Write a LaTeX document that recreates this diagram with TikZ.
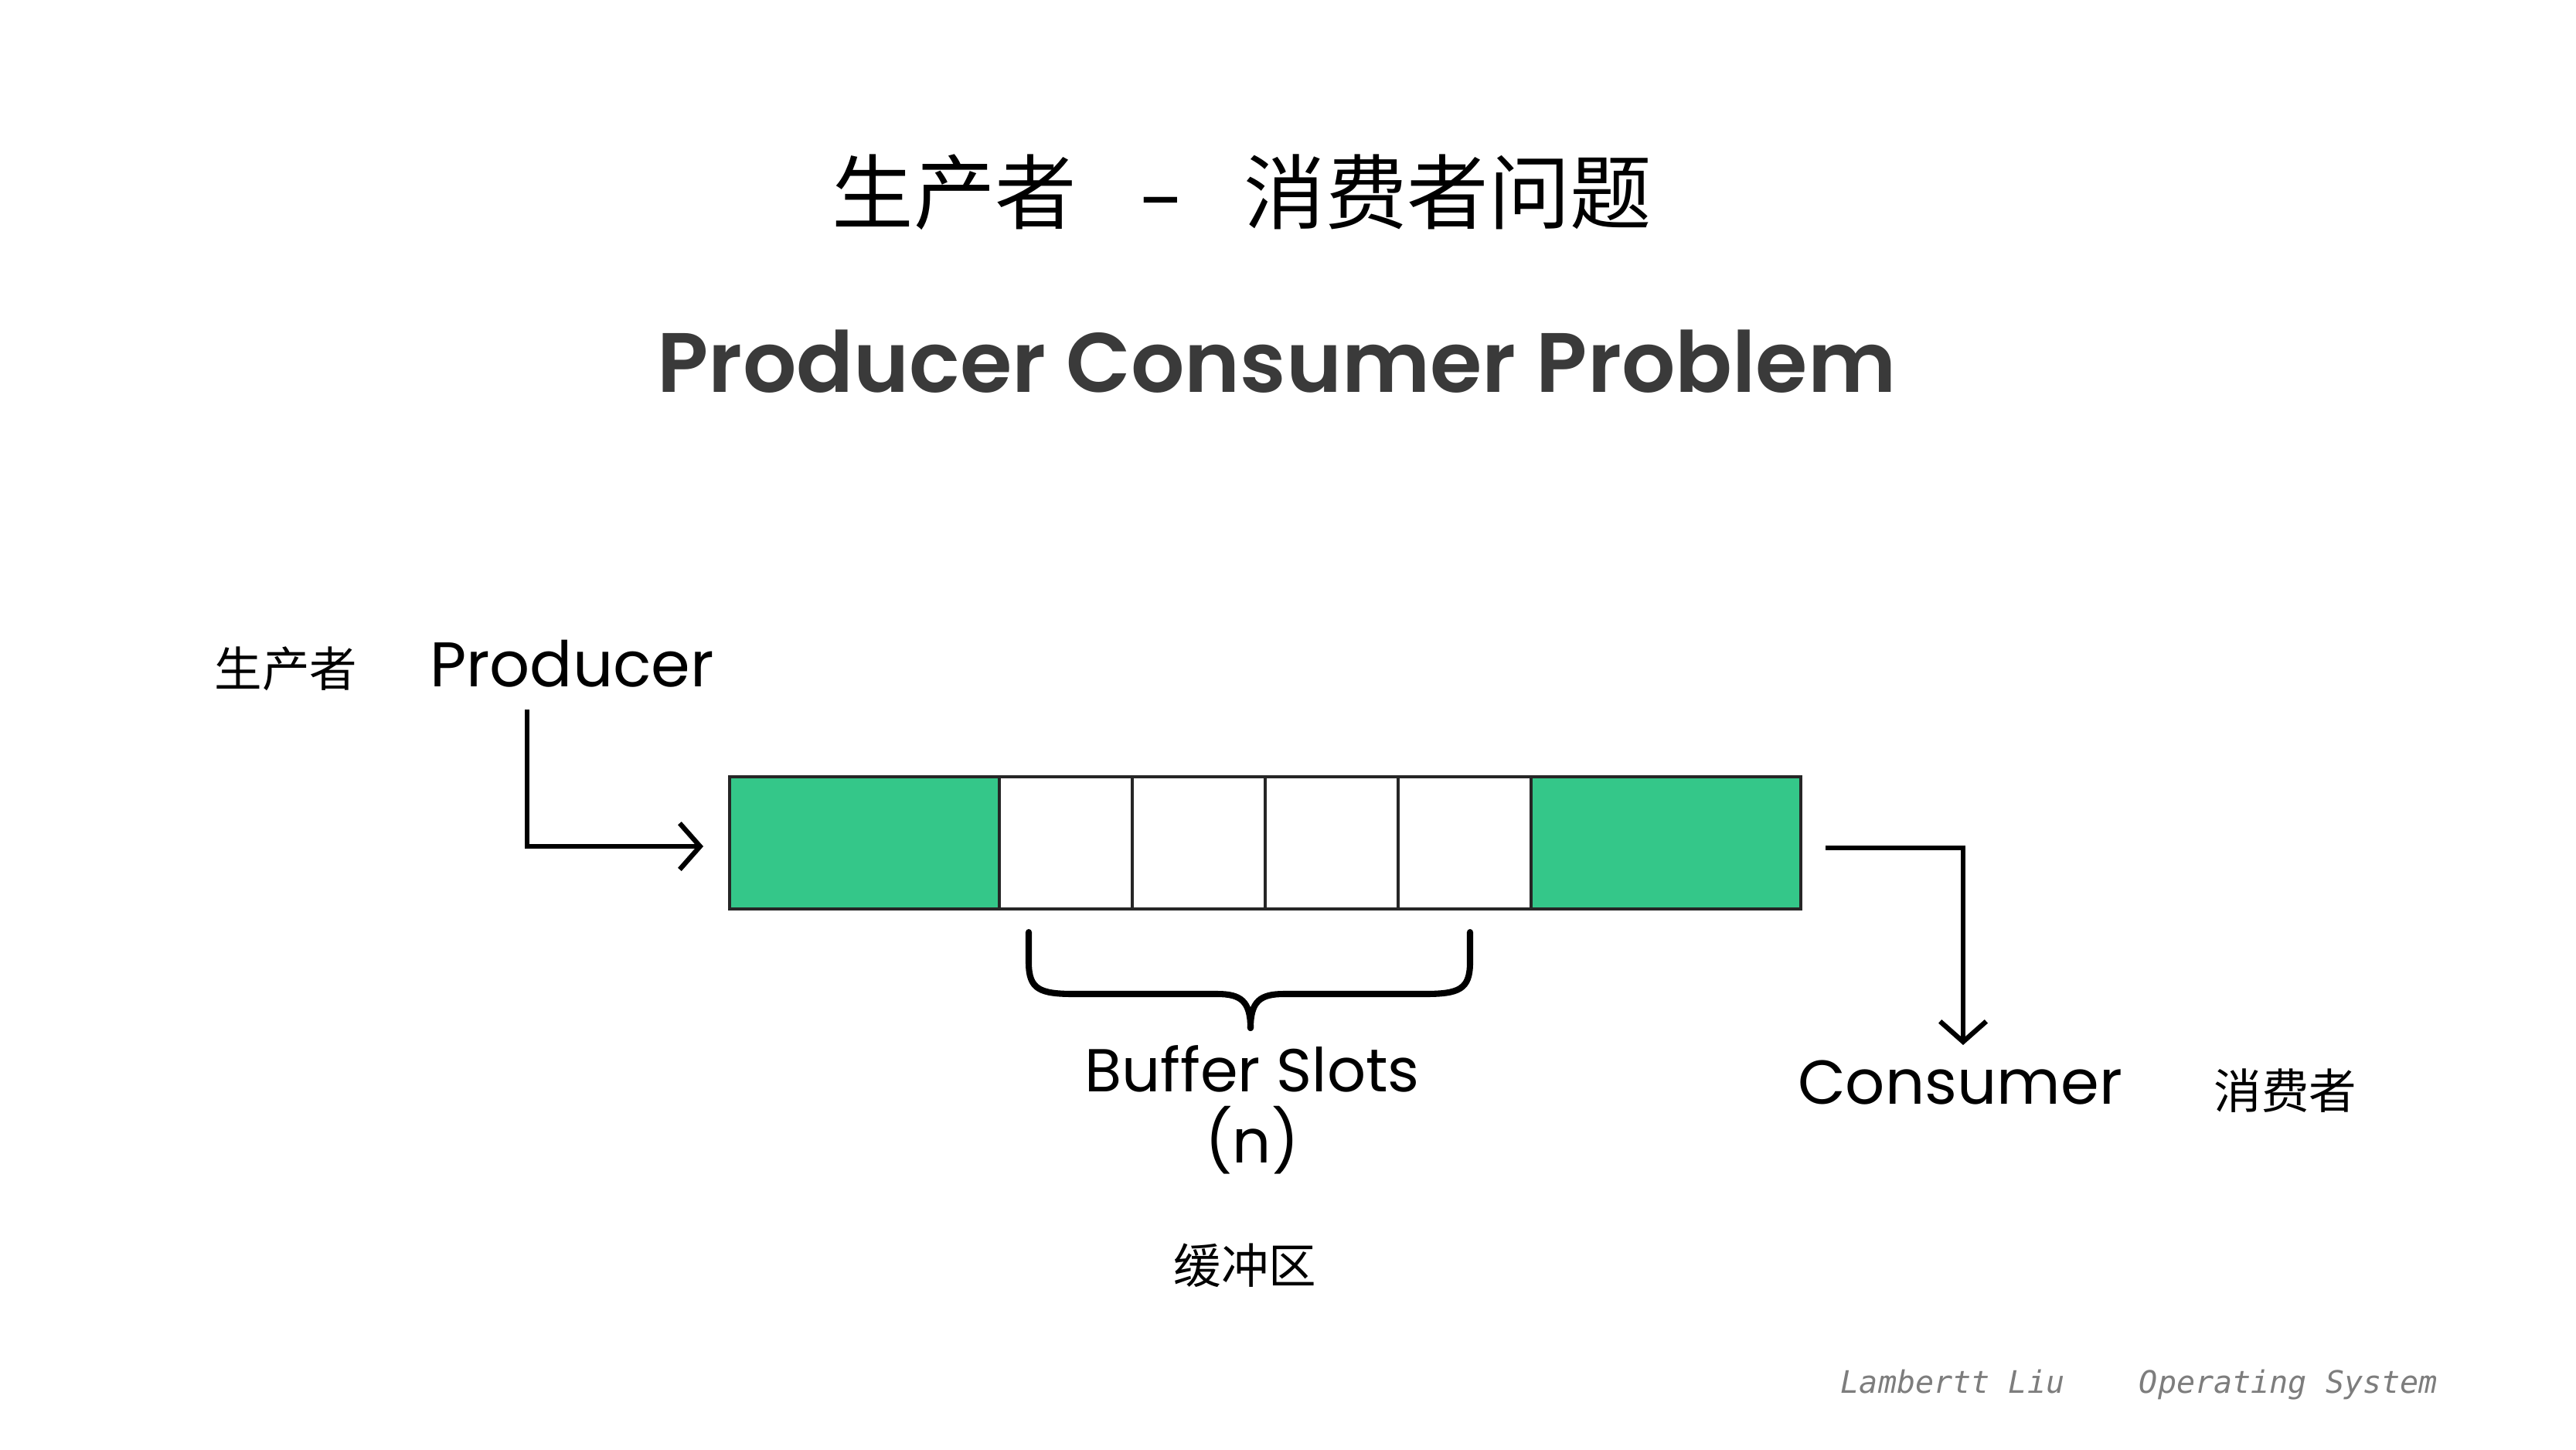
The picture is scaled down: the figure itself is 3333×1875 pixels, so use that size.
\documentclass[tikz,border=0pt]{standalone}
\usepackage{fontspec}
\usepackage{graphicx}
\usetikzlibrary{arrows.meta}
\newfontfamily\cjk{Noto Sans CJK SC}
\newfontfamily\pop{Poppins}
\newfontfamily\popsb{Poppins SemiBold}
\newfontfamily\footmono{DejaVu Sans Mono}
\definecolor{slotgreen}{RGB}{52,199,137}
\definecolor{subgray}{RGB}{58,58,58}
\definecolor{footgray}{RGB}{125,125,125}
\begin{document}
\begin{tikzpicture}[x=0.01cm,y=-0.01cm,
  cjktitle/.style={font=\cjk\fontsize{30}{36}\selectfont, inner sep=0pt},
  cjklabel/.style={font=\cjk\fontsize{17.5}{21}\selectfont, inner sep=0pt},
  enlabel/.style={font=\pop\fontsize{23.2}{28}\selectfont, inner sep=0pt},
  greencell/.style={draw=black!85, line width=0.9pt, fill=slotgreen},
  whitecell/.style={draw=black!85, line width=0.9pt, fill=white},
  flow/.style={draw=black, line width=1.8pt, -{Straight Barb[length=7.5pt,width=17pt,line width=1.8pt]}},
  bracestyle/.style={line width=2.3pt, line join=round, line cap=round},
]
\useasboundingbox (0,0) rectangle (3333,1875);
\fill[white] (0,0) rectangle (3333,1875);

% titles
\node[cjktitle] (title) at (1607,249) {生产者\hspace{0.75em}\scalebox{1.6}[1]{-}\hspace{0.75em}消费者问题};
\node[font=\popsb\fontsize{31}{36}\selectfont, text=subgray, inner sep=0pt] (sub) at (1652,468) {Producer Consumer Problem};

% labels
\node[cjklabel] (prodcn) at (370,865) {生产者};
\node[enlabel] (prod) at (740,859) {Producer};
\node[enlabel, font=\pop\fontsize{22.8}{28}\selectfont] (cons) at (2536,1401) {Consumer};
\node[cjklabel] (conscn) at (2957,1411) {消费者};
\node[enlabel, align=center, font=\pop\fontsize{22.3}{26.2}\selectfont] (slots) at (1620,1436) {Buffer Slots\\(n)};
\node[cjklabel] (bufcn) at (1611,1637) {缓冲区};

% buffer
\path[greencell] (944,1005) rectangle (1293,1176);
\path[whitecell] (1293,1005) rectangle (1465,1176);
\path[whitecell] (1465,1005) rectangle (1637,1176);
\path[whitecell] (1637,1005) rectangle (1809,1176);
\path[whitecell] (1809,1005) rectangle (1981,1176);
\path[greencell] (1981,1005) rectangle (2330,1176);
\node[inner sep=0pt, minimum width=1386, minimum height=171] (buf) at (1637,1090.5) {};

% arrows
\coordinate (p0) at (682,918);
\coordinate (p1) at (682,1095);
\coordinate (p2) at (910,1095);
\draw[flow] (p0) -- (p1) -- (p2);
\coordinate (c0) at (2362,1097);
\coordinate (c1) at (2540,1097);
\coordinate (c2) at (2540,1352);
\draw[flow] (c0) -- (c1) -- (c2);

% brace
\draw[bracestyle]
  (1331,1206) -- (1331,1245) .. controls (1331,1280) and (1345,1286) .. (1390,1286)
  -- (1575,1286) .. controls (1605,1286) and (1618,1295) .. (1618,1330);
\draw[bracestyle]
  (1902,1206) -- (1902,1245) .. controls (1902,1280) and (1888,1286) .. (1843,1286)
  -- (1661,1286) .. controls (1631,1286) and (1618,1295) .. (1618,1330);

% footer
\node[font=\footmono\itshape\fontsize{11.4}{13}\selectfont, text=footgray, anchor=west, inner sep=0pt] (foot) at (2381,1792) {Lambertt Liu\ \ \ \ Operating System};
\end{tikzpicture}
\end{document}
